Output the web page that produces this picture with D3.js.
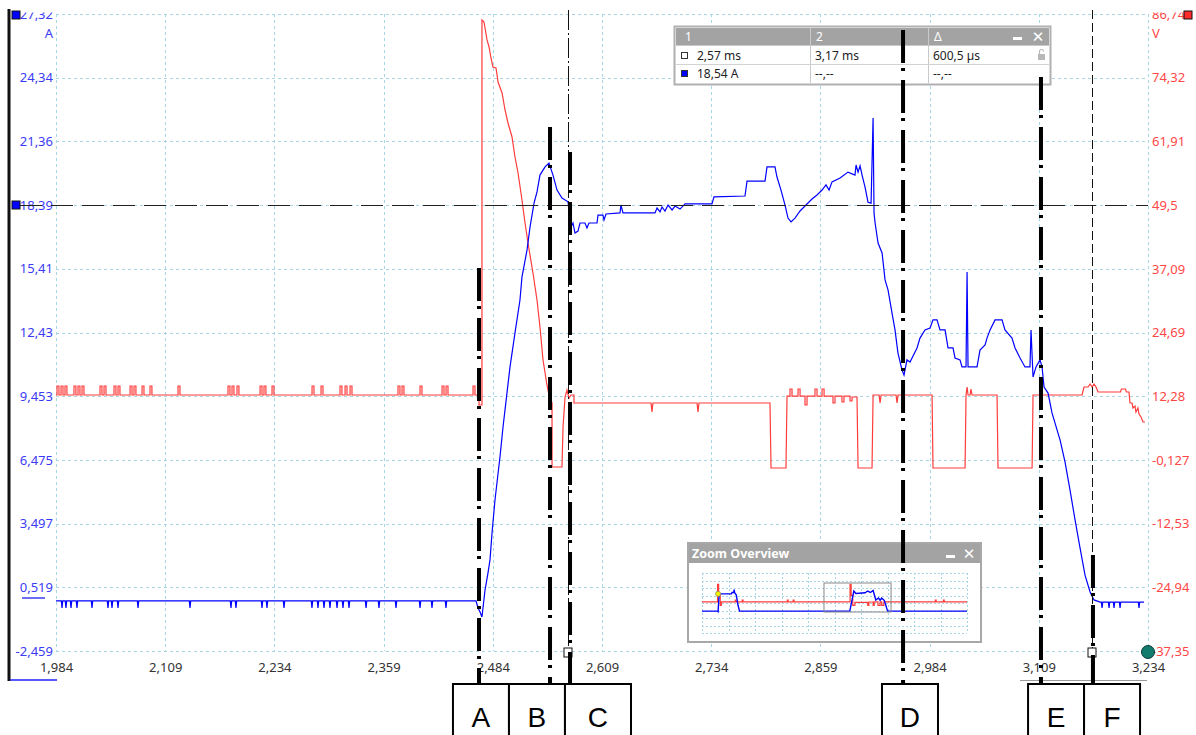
<!DOCTYPE html>
<html>
<head>
<meta charset="utf-8">
<script src="https://cdn.jsdelivr.net/npm/d3@7"></script>
<style>
  body { margin: 0; background: #fff; }
  svg { display: block; }
  text { font-family: "Noto Sans", "DejaVu Sans", sans-serif; }
</style>
</head>
<body>
<svg id="scope" width="1196" height="735"></svg>
<script>
// ---- axis ticks -------------------------------------------------------
const timeTicks = [1.984, 2.109, 2.234, 2.359, 2.484, 2.609, 2.734, 2.859, 2.984, 3.109, 3.234];
const timeTickLabels = ["1,984", "2,109", "2,234", "2,359", "2,484", "2,609", "2,734", "2,859", "2,984", "3,109", "3,234"];
const currentTicks = [-2.459, 0.519, 3.497, 6.475, 9.453, 12.43, 15.41, 18.39, 21.36, 24.34, 27.32];
const currentTickLabels = ["-2,459", "0,519", "3,497", "6,475", "9,453", "12,43", "15,41", "18,39", "21,36", "24,34", "27,32"];
const voltageTicks = [-37.35, -24.94, -12.53, -0.127, 12.28, 24.69, 37.09, 49.5, 61.91, 74.32, 86.74];
const voltageTickLabels = ["-37,35", "-24,94", "-12,53", "-0,127", "12,28", "24,69", "37,09", "49,5", "61,91", "74,32", "86,74"];

// ---- channel A: current [ms, A] ---------------------------------------
const currentTrace = [
  [1.9840,-0.12],
  [1.9901,-0.12],[1.9909,-0.45],[1.9917,-0.12],
  [1.9946,-0.12],[1.9954,-0.45],[1.9962,-0.12],
  [2.0004,-0.12],[2.0012,-0.45],[2.0020,-0.12],
  [2.0072,-0.12],[2.0080,-0.45],[2.0088,-0.12],
  [2.0244,-0.12],[2.0252,-0.45],[2.0260,-0.12],
  [2.0427,-0.12],[2.0435,-0.45],[2.0443,-0.12],
  [2.0473,-0.12],[2.0481,-0.45],[2.0489,-0.12],
  [2.0542,-0.12],[2.0550,-0.45],[2.0558,-0.12],
  [2.0771,-0.12],[2.0779,-0.45],[2.0787,-0.12],
  [2.1366,-0.12],[2.1374,-0.45],[2.1382,-0.12],
  [2.1835,-0.12],[2.1843,-0.45],[2.1851,-0.12],
  [2.1892,-0.12],[2.1900,-0.45],[2.1908,-0.12],
  [2.2190,-0.12],[2.2198,-0.45],[2.2206,-0.12],
  [2.2247,-0.12],[2.2255,-0.45],[2.2263,-0.12],
  [2.2442,-0.12],[2.2450,-0.45],[2.2458,-0.12],
  [2.2762,-0.12],[2.2770,-0.45],[2.2778,-0.12],
  [2.2831,-0.12],[2.2839,-0.45],[2.2847,-0.12],
  [2.2900,-0.12],[2.2908,-0.45],[2.2916,-0.12],
  [2.2968,-0.12],[2.2976,-0.45],[2.2984,-0.12],
  [2.3049,-0.12],[2.3057,-0.45],[2.3065,-0.12],
  [2.3117,-0.12],[2.3125,-0.45],[2.3133,-0.12],
  [2.3186,-0.12],[2.3194,-0.45],[2.3202,-0.12],
  [2.3381,-0.12],[2.3389,-0.45],[2.3397,-0.12],
  [2.3529,-0.12],[2.3537,-0.45],[2.3545,-0.12],
  [2.3724,-0.12],[2.3732,-0.45],[2.3740,-0.12],
  [2.3999,-0.12],[2.4007,-0.45],[2.4015,-0.12],
  [2.4136,-0.12],[2.4144,-0.45],[2.4152,-0.12],
  [2.4296,-0.12],[2.4304,-0.45],[2.4312,-0.12],
  [2.4648,-0.12],[2.4671,-0.45],[2.4694,-0.64],[2.4716,-0.87],[2.4751,0.39],[2.4785,1.19],
  [2.4808,1.80],[2.4831,3.06],[2.4865,4.60],[2.4922,6.61],[2.4957,8.01],[2.5037,10.82],
  [2.5094,12.41],[2.5151,13.95],[2.5174,15.03],[2.5232,16.29],[2.5266,17.36],[2.5312,18.48],
  [2.5346,19.00],[2.5380,19.79],[2.5438,20.17],[2.5483,20.35],[2.5529,19.79],[2.5575,19.09],
  [2.5632,18.72],[2.5701,18.54],[2.5735,17.36],[2.5758,17.55],[2.5781,17.08],[2.5815,17.17],
  [2.5838,17.55],[2.5895,17.55],[2.5918,17.32],[2.5941,17.55],[2.6033,17.55],[2.6044,17.92],
  [2.6101,17.92],[2.6113,17.69],[2.6136,17.97],[2.6296,18.02],[2.6307,18.39],[2.6330,18.02],
  [2.6697,18.02],[2.6720,18.25],[2.6754,18.07],[2.6777,18.30],[2.6811,18.11],[2.6846,18.39],
  [2.6892,18.16],[2.6926,18.34],[2.6983,18.20],[2.7041,18.44],[2.7349,18.44],[2.7372,18.77],
  [2.7727,18.81],[2.7750,19.51],[2.7956,19.51],[2.7979,20.17],[2.8070,20.17],[2.8093,19.70],
  [2.8139,19.09],[2.8185,18.39],[2.8219,17.78],[2.8254,17.60],[2.8299,17.78],[2.8357,18.11],
  [2.8425,18.39],[2.8494,18.67],[2.8551,18.86],[2.8609,19.09],[2.8654,19.33],[2.8689,19.09],
  [2.8723,19.47],[2.8815,19.65],[2.8906,19.93],[2.8986,19.79],[2.8998,20.26],[2.9021,19.93],
  [2.9044,20.22],[2.9067,19.79],[2.9101,19.23],[2.9135,18.52],[2.9170,18.48],[2.9193,22.46],
  [2.9204,18.02],[2.9216,17.55],[2.9250,16.61],[2.9296,16.15],[2.9330,14.89],[2.9364,14.42],
  [2.9410,13.34],[2.9444,12.55],[2.9478,11.47],[2.9524,10.68],[2.9547,10.44],[2.9581,11.15],
  [2.9616,11.05],[2.9639,11.24],[2.9696,11.71],[2.9730,12.17],[2.9787,12.55],[2.9845,12.64],
  [2.9879,13.02],[2.9925,13.02],[2.9959,12.55],[3.0017,12.55],[3.0051,11.71],[3.0108,11.71],
  [3.0131,11.24],[3.0188,11.15],[3.0211,10.82],[3.0257,10.82],[3.0269,15.26],[3.0280,10.82],
  [3.0383,10.82],[3.0417,11.61],[3.0475,11.85],[3.0497,12.17],[3.0532,12.55],[3.0589,13.02],
  [3.0669,13.02],[3.0703,12.55],[3.0783,12.17],[3.0818,11.71],[3.0875,11.24],[3.0932,10.82],
  [3.0989,10.82],[3.1001,12.55],[3.1024,10.35],[3.1058,10.82],[3.1104,11.15],[3.1127,10.82],
  [3.1150,9.88],[3.1196,9.60],[3.1241,8.67],[3.1333,7.41],[3.1390,6.38],[3.1447,5.07],
  [3.1505,3.67],[3.1562,2.36],[3.1619,1.09],[3.1677,0.30],[3.1722,-0.07],[3.1791,-0.17],
  [3.1806,-0.17],[3.1814,-0.45],[3.1822,-0.17],
  [3.1886,-0.17],[3.1894,-0.45],[3.1902,-0.17],
  [3.1943,-0.17],[3.1951,-0.45],[3.1959,-0.17],
  [3.2012,-0.17],[3.2020,-0.45],[3.2028,-0.17],
  [3.2229,-0.17],[3.2237,-0.45],[3.2245,-0.17],
  [3.2294,-0.17]
];

// ---- channel B: voltage [ms, V] ------------------------------------------
const voltageTrace = [
  [1.9840,12.52],
  [1.9852,12.52],[1.9852,14.27],[1.9874,14.27],[1.9874,12.52],
  [1.9898,12.52],[1.9898,14.27],[1.9920,14.27],[1.9920,12.52],
  [1.9943,12.52],[1.9943,14.27],[1.9965,14.27],[1.9965,12.52],
  [2.0046,12.52],[2.0046,14.27],[2.0068,14.27],[2.0068,12.52],
  [2.0092,12.52],[2.0092,14.27],[2.0114,14.27],[2.0114,12.52],
  [2.0138,12.52],[2.0138,14.27],[2.0160,14.27],[2.0160,12.52],
  [2.0344,12.52],[2.0344,14.27],[2.0366,14.27],[2.0366,12.52],
  [2.0390,12.52],[2.0390,14.27],[2.0412,14.27],[2.0412,12.52],
  [2.0504,12.52],[2.0504,14.27],[2.0526,14.27],[2.0526,12.52],
  [2.0550,12.52],[2.0550,14.27],[2.0572,14.27],[2.0572,12.52],
  [2.0688,12.52],[2.0688,14.27],[2.0710,14.27],[2.0710,12.52],
  [2.0733,12.52],[2.0733,14.27],[2.0755,14.27],[2.0755,12.52],
  [2.0825,12.52],[2.0825,14.27],[2.0847,14.27],[2.0847,12.52],
  [2.0916,12.52],[2.0916,14.27],[2.0938,14.27],[2.0938,12.52],
  [2.1237,12.52],[2.1237,14.27],[2.1259,14.27],[2.1259,12.52],
  [2.1809,12.52],[2.1809,14.27],[2.1831,14.27],[2.1831,12.52],
  [2.1855,12.52],[2.1855,14.27],[2.1877,14.27],[2.1877,12.52],
  [2.1912,12.52],[2.1912,14.27],[2.1934,14.27],[2.1934,12.52],
  [2.2176,12.52],[2.2176,14.27],[2.2198,14.27],[2.2198,12.52],
  [2.2221,12.52],[2.2221,14.27],[2.2243,14.27],[2.2243,12.52],
  [2.2313,12.52],[2.2313,14.27],[2.2335,14.27],[2.2335,12.52],
  [2.2771,12.52],[2.2771,14.27],[2.2793,14.27],[2.2793,12.52],
  [2.2874,12.52],[2.2874,14.27],[2.2896,14.27],[2.2896,12.52],
  [2.3091,12.52],[2.3091,14.27],[2.3113,14.27],[2.3113,12.52],
  [2.3149,12.52],[2.3149,14.27],[2.3171,14.27],[2.3171,12.52],
  [2.3206,12.52],[2.3206,14.27],[2.3228,14.27],[2.3228,12.52],
  [2.3755,12.52],[2.3755,14.27],[2.3777,14.27],[2.3777,12.52],
  [2.3801,12.52],[2.3801,14.27],[2.3823,14.27],[2.3823,12.52],
  [2.4007,12.52],[2.4007,14.27],[2.4029,14.27],[2.4029,12.52],
  [2.4259,12.52],[2.4259,14.27],[2.4281,14.27],[2.4281,12.52],
  [2.4305,12.52],[2.4305,14.27],[2.4327,14.27],[2.4327,12.52],
  [2.4614,12.52],[2.4614,14.27],[2.4636,14.27],[2.4636,12.52],
  [2.4682,12.52],[2.4682,10.57],[2.4716,10.57],[2.4716,85.57],[2.4739,85.18],[2.4774,81.68],
  [2.4797,80.31],[2.4819,78.17],[2.4842,76.42],[2.4877,76.22],[2.4900,73.49],[2.4946,71.35],
  [2.4980,68.04],[2.5014,65.51],[2.5060,62.78],[2.5094,58.88],[2.5129,55.77],[2.5174,50.51],
  [2.5209,46.03],[2.5243,42.13],[2.5300,36.29],[2.5346,31.03],[2.5380,25.77],[2.5415,19.34],
  [2.5460,14.47],[2.5495,11.55],[2.5518,11.00],[2.5518,-1.51],[2.5632,-1.51],[2.5644,6.29],
  [2.5667,12.13],[2.5689,13.49],[2.5712,11.94],[2.5735,12.52],[2.5769,12.52],[2.5769,10.96],
  [2.6651,10.96],[2.6662,9.21],[2.6673,10.96],[2.7178,10.96],[2.7189,9.21],[2.7200,10.96],
  [2.8013,10.96],[2.8025,-1.70],[2.8196,-1.70],[2.8208,12.32],
  [2.8242,12.32],[2.8242,13.69],[2.8265,13.69],[2.8265,12.32],
  [2.8334,12.32],[2.8334,13.69],[2.8357,13.69],[2.8357,12.32],
  [2.8414,12.32],[2.8414,10.57],[2.8437,10.57],[2.8437,12.32],
  [2.8528,12.32],[2.8528,13.69],[2.8551,13.69],[2.8551,12.32],
  [2.8609,12.32],[2.8609,13.69],[2.8632,13.69],[2.8632,12.32],
  [2.8734,12.32],[2.8734,10.96],[2.8757,10.96],[2.8757,12.32],
  [2.8837,12.32],[2.8837,11.16],[2.8860,11.16],[2.8860,12.32],
  [2.8929,12.32],[2.8929,11.35],[2.8952,11.35],[2.8952,12.13],
  [2.9009,12.13],[2.9021,-1.70],[2.9181,-1.70],[2.9193,12.52],
  [2.9262,12.52],[2.9273,10.96],[2.9285,12.52],[2.9456,12.52],[2.9467,10.96],[2.9479,12.52],
  [2.9868,12.52],[2.9879,-1.70],[3.0246,-1.70],[3.0257,12.52],[3.0269,14.08],[3.0280,12.52],
  [3.0303,12.52],[3.0314,13.69],[3.0326,12.52],[3.0612,12.52],[3.0623,-1.70],[3.1013,-1.70],
  [3.1024,12.52],[3.1585,12.52],[3.1608,14.08],[3.1654,14.08],[3.1677,14.66],[3.1700,14.08],
  [3.1722,14.66],[3.1745,14.08],[3.1768,13.10],[3.2025,13.10],[3.2036,13.69],[3.2082,13.69],
  [3.2093,13.10],[3.2122,13.10],[3.2134,10.96],[3.2157,10.96],[3.2168,9.99],[3.2191,10.38],
  [3.2202,9.21],[3.2225,9.99],[3.2237,8.82],[3.2260,8.23],[3.2283,7.26],[3.2306,7.26]
];

// ---- cursors and readout ------------------------------------------------
const cursorTimes = [2.57, 3.17];
const cursorLevel = 18.39;
const readoutHeader = ["1", "2", "\u0394"];
const readoutTime = ["2,57 ms", "3,17 ms", "600,5 \u00b5s"];
const readoutCurrent = ["18,54 A", "--,--", "--,--"];

// ---- phase markers A..F (time in ms, top of the marker in A) -------------
const phaseLabels = ["A", "B", "C", "D", "E", "F"];
const phaseTimes = [2.4682, 2.5495, 2.5724, 2.9536, 3.1115, 3.1710];
const phaseTops = [15.45, 22.04, 20.87, 26.57, 24.37, 2.03];
const phaseBoxStart = [2.4384, 2.5025, 2.5666, 2.9295, 3.0967, 3.1608];
const phaseBoxEnd = [2.5025, 2.5666, 2.6422, 2.9936, 3.1608, 3.2249];

// ---- zoom overview (whole capture) ---------------------------------------
const overviewCurrent = [
  [-0.29,-0.12],[0.00,-0.12],[0.01,-0.6],[0.03,17.2],[0.26,17.2],[0.27,18.5],[0.30,18.5],
  [0.31,21.5],[0.32,18.0],[0.35,16.0],[0.38,6.0],[0.41,-0.12],[2.465,-0.12],[2.54,20.0],
  [2.58,17.5],[2.75,18.3],[2.80,20.0],[2.85,18.5],[2.90,20.5],[2.95,11.0],[3.00,13.0],
  [3.03,10.8],[3.06,13.0],[3.11,10.5],[3.17,-0.12],[4.65,-0.12]
];
const overviewVoltage = [
  [-0.29,12.5],[0.00,85],[0.02,40],[0.05,-1.5],[0.07,12.5],[0.33,20],[0.345,12.5],
  [0.46,20],[0.475,12.5],[1.30,20],[1.315,12.5],[1.41,20],[1.425,12.5],[2.47,85],[2.49,40],
  [2.52,-1.5],[2.56,11],[2.80,-1.7],[2.82,12.3],[2.90,-1.7],[2.92,12.5],[2.99,-1.7],
  [3.03,12.5],[3.06,-1.7],[3.10,12.5],[4.06,20],[4.075,12.5],[4.21,20],[4.225,12.5],[4.65,12.5]
];
const overviewSpan = [-0.29, 4.65];
const overviewWindow = [1.984, 3.234];
const overviewMarker = [0.01, 17.2];

// ---- drawing -----------------------------------------------------------------
const svg = d3.select("#scope");
const plot = { left: 56, right: 1148, top: 14, bottom: 651 };

const x = d3.scaleLinear().domain([1.984, 3.234]).range([plot.left, plot.right]);
const yI = d3.scaleLinear().domain([-2.459, 27.32]).range([plot.bottom, plot.top]);
const yV = d3.scaleLinear().domain([-37.35, 86.74]).range([plot.bottom, plot.top]);

const defs = svg.append("defs");
defs.append("clipPath").attr("id", "topclip")
  .append("rect").attr("x", 0).attr("y", 12.5).attr("width", 1196).attr("height", 725);

const gridColor = "#a9d6e5";
const grid = svg.append("g").attr("stroke", gridColor).attr("stroke-width", 1)
  .attr("stroke-dasharray", "3,3").attr("shape-rendering", "crispEdges");
grid.selectAll("line.v").data(timeTicks).join("line").attr("class", "v")
  .attr("x1", d => Math.round(x(d)) + 0.5).attr("x2", d => Math.round(x(d)) + 0.5)
  .attr("y1", plot.top).attr("y2", plot.bottom);
grid.selectAll("line.h").data(currentTicks).join("line").attr("class", "h")
  .attr("y1", d => Math.round(yI(d)) + 0.5).attr("y2", d => Math.round(yI(d)) + 0.5)
  .attr("x1", plot.left).attr("x2", plot.right);

// tick labels
const labels = svg.append("g").attr("clip-path", "url(#topclip)");
const leftAxis = labels.append("g").attr("transform", `translate(${plot.left},0)`)
  .call(d3.axisLeft(yI).tickValues(currentTicks).tickFormat((d, i) => currentTickLabels[i])
    .tickSize(0).tickPadding(3));
const rightAxis = labels.append("g").attr("transform", `translate(${plot.right},0)`)
  .call(d3.axisRight(yV).tickValues(voltageTicks).tickFormat((d, i) => voltageTickLabels[i])
    .tickSize(0).tickPadding(4));
const bottomAxis = labels.append("g").attr("transform", `translate(0,${plot.bottom})`)
  .call(d3.axisBottom(x).tickValues(timeTicks).tickFormat((d, i) => timeTickLabels[i])
    .tickSize(0).tickPadding(12));
[leftAxis, rightAxis, bottomAxis].forEach(a => { a.select(".domain").remove(); a.attr("font-family", null); });
leftAxis.selectAll("text").attr("fill", "#3b3bf5").style("font-size", "13px");
rightAxis.selectAll("text").attr("fill", "#ff4747").style("font-size", "13px");
bottomAxis.selectAll("text").attr("fill", "#333").style("font-size", "13px");

svg.append("text").attr("x", 53).attr("y", 38).attr("text-anchor", "end")
  .attr("fill", "#3b3bf5").style("font-size", "13px").text("A");
svg.append("text").attr("x", 1152).attr("y", 38)
  .attr("fill", "#ff4747").style("font-size", "13px").text("V");

// channel traces
const voltageLine = d3.line().x(d => x(d[0])).y(d => yV(d[1]));
const currentLine = d3.line().x(d => x(d[0])).y(d => yI(d[1]));
svg.append("path").datum(voltageTrace).attr("d", voltageLine)
  .attr("fill", "none").attr("stroke", "#ff3c3c").attr("stroke-width", 1.2);
svg.append("path").datum(currentTrace).attr("d", currentLine)
  .attr("fill", "none").attr("stroke", "#0000ff").attr("stroke-width", 1.2);

// horizontal cursor
svg.append("line").attr("x1", 20).attr("x2", plot.right)
  .attr("y1", Math.round(yI(cursorLevel)) + 0.5).attr("y2", Math.round(yI(cursorLevel)) + 0.5)
  .attr("stroke", "#222").attr("stroke-width", 1.2).attr("stroke-dasharray", "22,9");

// time cursors
const cursorDash = ["20,3,2,3", "9,4"];
svg.selectAll("line.cursor").data(cursorTimes).join("line").attr("class", "cursor")
  .attr("x1", d => Math.round(x(d)) + 0.5).attr("x2", d => Math.round(x(d)) + 0.5)
  .attr("y1", 10).attr("y2", plot.bottom - 3)
  .attr("stroke", "#111").attr("stroke-width", 1).attr("stroke-dasharray", (d, i) => cursorDash[i]);
svg.selectAll("rect.handle").data(cursorTimes).join("rect").attr("class", "handle")
  .attr("x", d => Math.round(x(d)) - 4).attr("y", plot.bottom - 3).attr("width", 8).attr("height", 9)
  .attr("fill", "#fff").attr("stroke", "#111").attr("stroke-width", 1);

// channel frame on the left
svg.append("line").attr("x1", 9).attr("x2", 9).attr("y1", 9).attr("y2", 681)
  .attr("stroke", "#111").attr("stroke-width", 3);
svg.append("line").attr("x1", 10).attr("x2", 57).attr("y1", 680).attr("y2", 680)
  .attr("stroke", "#2020ff").attr("stroke-width", 1.5);
svg.append("line").attr("x1", 22).attr("x2", 45).attr("y1", 598).attr("y2", 598)
  .attr("stroke", "#3b3bf5").attr("stroke-width", 1.5);
svg.append("rect").attr("x", 12).attr("y", 11).attr("width", 8).attr("height", 8)
  .attr("fill", "#0000ff").attr("stroke", "#111");
svg.append("rect").attr("x", 12).attr("y", Math.round(yI(cursorLevel)) - 4).attr("width", 8).attr("height", 8)
  .attr("fill", "#0000ff").attr("stroke", "#111");
svg.append("rect").attr("x", 1184).attr("y", 11).attr("width", 8).attr("height", 8)
  .attr("fill", "#ff2b2b").attr("stroke", "#111");
svg.append("circle").attr("cx", plot.right).attr("cy", plot.bottom + 1).attr("r", 6.5)
  .attr("fill", "#137a6e").attr("stroke", "#0b3b36").attr("stroke-width", 1);
svg.append("line").attr("x1", 1020).attr("x2", 1147).attr("y1", 680.5).attr("y2", 680.5)
  .attr("stroke", "#9a9a9a").attr("stroke-width", 1);

// ---- cursor readout window ----
const ro = svg.append("g");
ro.append("rect").attr("x", 674.5).attr("y", 26.5).attr("width", 376).attr("height", 58)
  .attr("fill", "#fff").attr("stroke", "#b0b0b0").attr("stroke-width", 2);
ro.append("rect").attr("x", 676).attr("y", 28).attr("width", 373).attr("height", 17).attr("fill", "#a3a3a3");
const roCols = [681, 810, 928];
ro.selectAll("text.hd").data(readoutHeader).join("text").attr("class", "hd")
  .attr("x", (d, i) => roCols[i] + (i === 0 ? 4 : 6)).attr("y", 41)
  .attr("fill", "#fff").style("font-size", "12px").text(d => d);
ro.selectAll("line.col").data([810, 928]).join("line").attr("class", "col")
  .attr("x1", d => d + 0.5).attr("x2", d => d + 0.5).attr("y1", 28).attr("y2", 83)
  .attr("stroke", "#c9c9c9");
ro.append("line").attr("x1", 676).attr("x2", 1049).attr("y1", 64.5).attr("y2", 64.5).attr("stroke", "#d2d2d2");
ro.append("line").attr("x1", 676).attr("x2", 1049).attr("y1", 45.5).attr("y2", 45.5).attr("stroke", "#c9c9c9");
ro.append("rect").attr("x", 1013).attr("y", 37).attr("width", 9).attr("height", 3).attr("fill", "#fff");
ro.append("text").attr("x", 1038).attr("y", 42).attr("text-anchor", "middle").attr("fill", "#fff")
  .style("font-size", "15px").style("font-weight", "bold").text("\u2715");
ro.append("rect").attr("x", 681.5).attr("y", 52.5).attr("width", 6).attr("height", 6)
  .attr("fill", "#fff").attr("stroke", "#333");
ro.append("rect").attr("x", 681.5).attr("y", 70.5).attr("width", 6).attr("height", 6)
  .attr("fill", "#0000ff").attr("stroke", "#333");
ro.selectAll("text.r1").data(readoutTime).join("text").attr("class", "r1")
  .attr("x", (d, i) => i === 0 ? 697 : roCols[i] + 5).attr("y", 60)
  .attr("fill", "#222").style("font-size", "12px").text(d => d);
ro.selectAll("text.r2").data(readoutCurrent).join("text").attr("class", "r2")
  .attr("x", (d, i) => i === 0 ? 697 : roCols[i] + 5).attr("y", 78)
  .attr("fill", "#222").style("font-size", "12px").text(d => d);
// padlock glyph
ro.append("rect").attr("x", 1038).attr("y", 54).attr("width", 7).attr("height", 6).attr("fill", "#b8b8b8");
ro.append("path").attr("d", "M1039.5,54 v-2.5 a2,2 0 0 1 4,0").attr("fill", "none").attr("stroke", "#b8b8b8").attr("stroke-width", 1.2);

// ---- zoom overview window ----
const ov = svg.append("g");
ov.append("rect").attr("x", 688).attr("y", 543).attr("width", 293).attr("height", 99)
  .attr("fill", "#fff").attr("stroke", "#a8a8a8").attr("stroke-width", 2);
ov.append("rect").attr("x", 689).attr("y", 544).attr("width", 291).attr("height", 19).attr("fill", "#a3a3a3");
ov.append("text").attr("x", 692).attr("y", 558).attr("fill", "#fff")
  .style("font-size", "12.5px").style("font-weight", "bold").text("Zoom Overview");
ov.append("rect").attr("x", 946).attr("y", 555).attr("width", 9).attr("height", 3).attr("fill", "#fff");
ov.append("text").attr("x", 969).attr("y", 559).attr("text-anchor", "middle").attr("fill", "#fff")
  .style("font-size", "15px").style("font-weight", "bold").text("\u2715");

const ox = d3.scaleLinear().domain(overviewSpan).range([702, 967]);
const oyI = d3.scaleLinear().domain([-2.459, 27.32]).range([613.5, 583.7]);
const oyV = d3.scaleLinear().domain([-37.35, 86.74]).range([614, 584]);
const ovGrid = ov.append("g").attr("stroke", gridColor).attr("stroke-dasharray", "2,2")
  .attr("shape-rendering", "crispEdges");
ovGrid.selectAll("line.v").data(d3.range(11)).join("line").attr("class", "v")
  .attr("x1", i => Math.round(702 + i * 26.5) + 0.5).attr("x2", i => Math.round(702 + i * 26.5) + 0.5)
  .attr("y1", 573).attr("y2", 633);
ovGrid.selectAll("line.h").data(d3.range(9)).join("line").attr("class", "h")
  .attr("y1", i => Math.round(573 + i * 7.5) + 0.5).attr("y2", i => Math.round(573 + i * 7.5) + 0.5)
  .attr("x1", 702).attr("x2", 967);
ov.append("path").datum(overviewVoltage)
  .attr("d", d3.line().x(d => ox(d[0])).y(d => oyV(d[1])).curve(d3.curveStepAfter))
  .attr("fill", "none").attr("stroke", "#ff3c3c").attr("stroke-width", 1.2);
ov.append("path").datum(overviewCurrent)
  .attr("d", d3.line().x(d => ox(d[0])).y(d => oyI(d[1])))
  .attr("fill", "none").attr("stroke", "#0000ff").attr("stroke-width", 1.4);
ov.append("rect").attr("x", ox(overviewWindow[0])).attr("y", 583)
  .attr("width", ox(overviewWindow[1]) - ox(overviewWindow[0])).attr("height", 29)
  .attr("fill", "none").attr("stroke", "#888").attr("stroke-width", 1);
ov.append("circle").attr("cx", ox(overviewMarker[0])).attr("cy", oyI(overviewMarker[1])).attr("r", 2.6)
  .attr("fill", "#f2f200").attr("stroke", "#777").attr("stroke-width", 0.6);

// ---- phase markers ----
const boxTop = 684;
svg.selectAll("line.phase").data(phaseTimes).join("line").attr("class", "phase")
  .attr("x1", d => x(d)).attr("x2", d => x(d))
  .attr("y1", (d, i) => yI(phaseTops[i])).attr("y2", boxTop)
  .attr("stroke", "#000").attr("stroke-width", 4).attr("stroke-dasharray", "33,5,3,9");
const boxes = svg.append("g");
boxes.selectAll("rect").data(phaseLabels).join("rect")
  .attr("x", (d, i) => x(phaseBoxStart[i])).attr("y", boxTop)
  .attr("width", (d, i) => x(phaseBoxEnd[i]) - x(phaseBoxStart[i])).attr("height", 60)
  .attr("fill", "#fff").attr("stroke", "#000").attr("stroke-width", 2);
boxes.selectAll("text").data(phaseLabels).join("text")
  .attr("x", (d, i) => (x(phaseBoxStart[i]) + x(phaseBoxEnd[i])) / 2).attr("y", 727)
  .attr("text-anchor", "middle").attr("fill", "#000")
  .style("font-family", "'Liberation Sans Narrow', 'Liberation Sans', sans-serif")
  .style("font-size", "28px").text(d => d);
</script>
</body>
</html>
